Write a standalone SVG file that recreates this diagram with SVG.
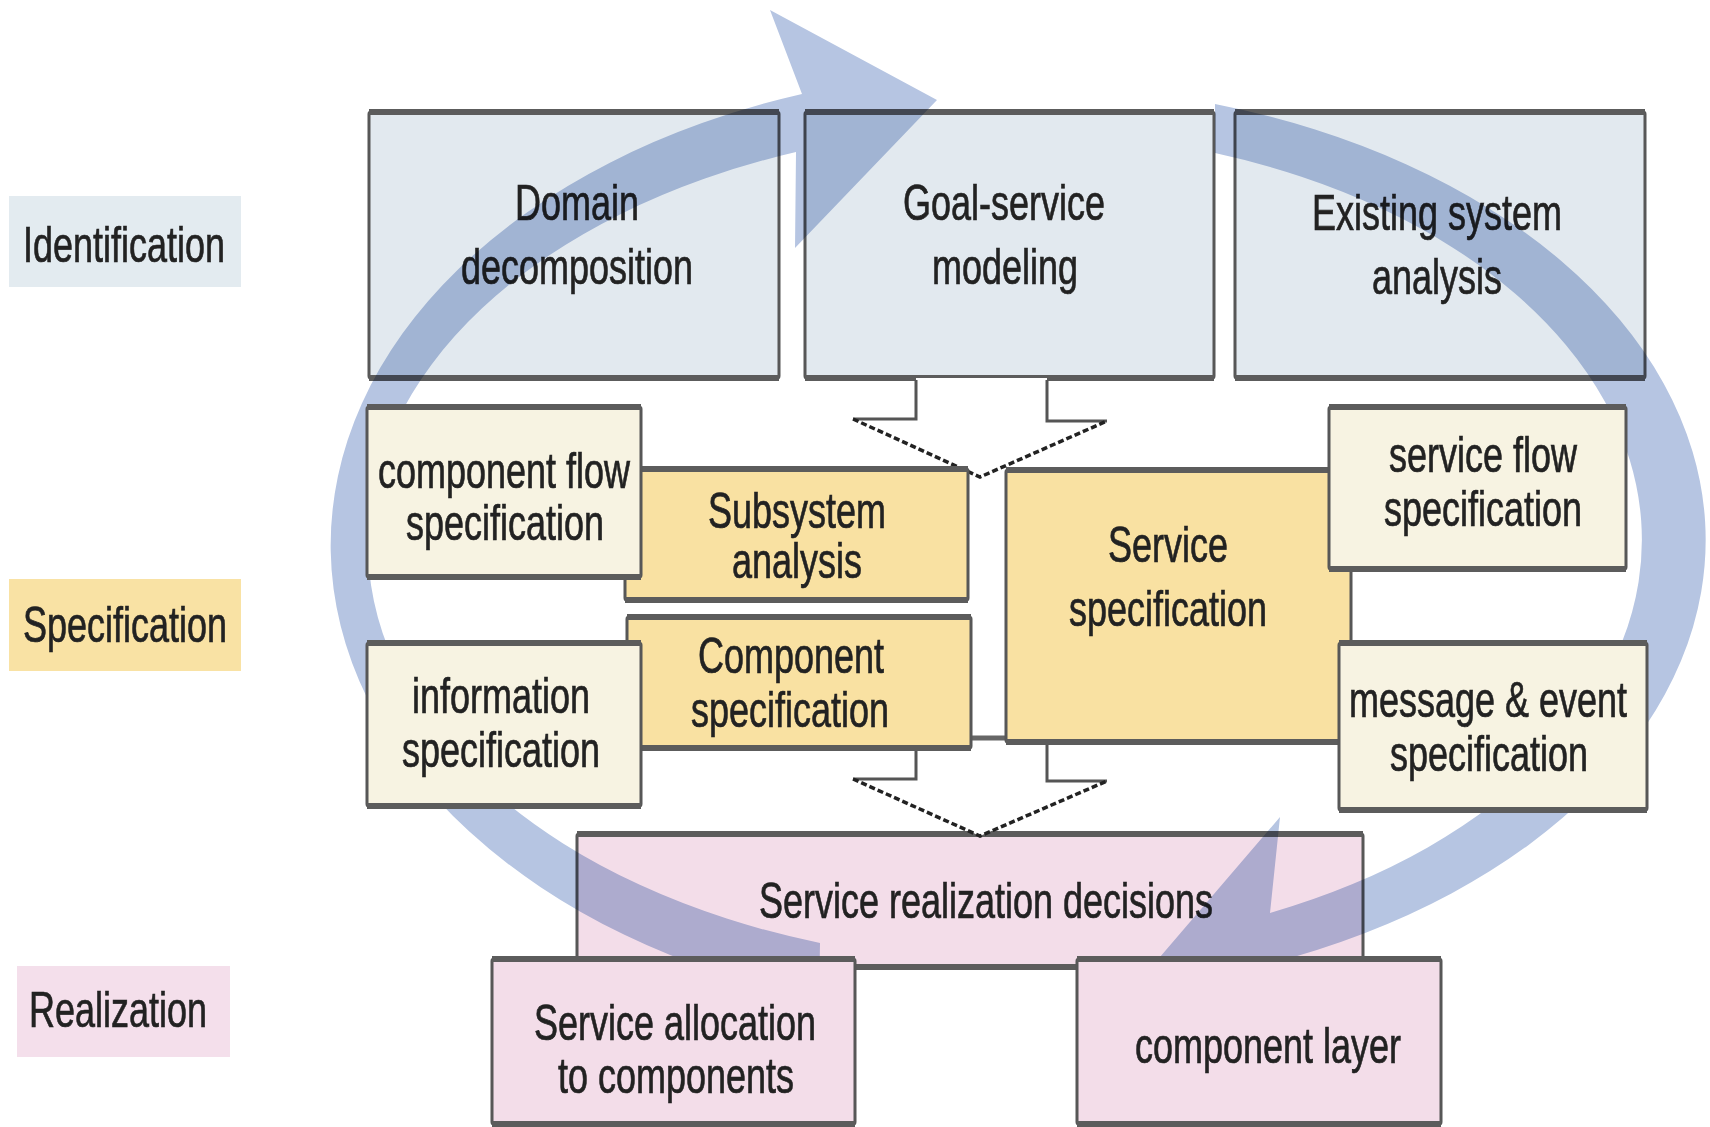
<svg xmlns="http://www.w3.org/2000/svg" width="1710" height="1127" viewBox="0 0 1710 1127">
<style>
.t{font-family:"Liberation Sans",Arial,sans-serif;font-size:50px;fill:#222;stroke:#222;stroke-width:0.7;text-anchor:middle}
.bx{stroke:#575757;stroke-width:3}
.tb{stroke:#5c5c5c;stroke-width:6}
.id{fill:#e2e9ef}
.cr{fill:#f7f3e2}
.ye{fill:#f9e1a2}
.pk{fill:#f3dde9}
.ring{fill:#b6c5e2;mix-blend-mode:multiply}
.sh{stroke:#555;stroke-width:3;fill:none}
.dg{stroke:#222;stroke-width:3.5;stroke-dasharray:6 3;fill:none}
</style>
<rect width="1710" height="1127" fill="#ffffff"/>

<g id="label-identification">
<rect x="9" y="196" width="232" height="91" fill="#e3ebf0"/>
<text class="t" transform="translate(124 262) scale(0.72 1)">Identification</text>
</g>
<g id="label-specification">
<rect x="9" y="579" width="232" height="92" fill="#f9e2a4"/>
<text class="t" transform="translate(125 642) scale(0.72 1)">Specification</text>
</g>
<g id="label-realization">
<rect x="17" y="966" width="213" height="91" fill="#f4dfeb"/>
<text class="t" transform="translate(118 1027) scale(0.72 1)">Realization</text>
</g>

<g id="domain-decomposition">
<rect class="bx id" x="369" y="112" width="410" height="266" rx="2"/>
<line class="tb" x1="369" y1="112" x2="779" y2="112"/><line class="tb" x1="369" y1="378" x2="779" y2="378"/>
<text class="t" transform="translate(577 220) scale(0.72 1)">Domain</text>
<text class="t" transform="translate(577 284) scale(0.72 1)">decomposition</text>
</g>
<g id="goal-service-modeling">
<rect class="bx id" x="805" y="112" width="409" height="266" rx="2"/>
<line class="tb" x1="805" y1="112" x2="1214" y2="112"/><line class="tb" x1="805" y1="378" x2="1214" y2="378"/>
<text class="t" transform="translate(1004 220) scale(0.72 1)">Goal-service</text>
<text class="t" transform="translate(1005 284) scale(0.72 1)">modeling</text>
</g>
<g id="existing-system-analysis">
<rect class="bx id" x="1235" y="112" width="410" height="266" rx="2"/>
<line class="tb" x1="1235" y1="112" x2="1645" y2="112"/><line class="tb" x1="1235" y1="378" x2="1645" y2="378"/>
<text class="t" transform="translate(1437 230) scale(0.72 1)">Existing system</text>
<text class="t" transform="translate(1437 294) scale(0.72 1)">analysis</text>
</g>
<g id="service-realization-decisions">
<rect class="bx pk" x="577" y="834" width="786" height="133" rx="2"/>
<line class="tb" x1="577" y1="834" x2="1363" y2="834"/><line class="tb" x1="577" y1="967" x2="1363" y2="967"/>
<text class="t" transform="translate(986 918) scale(0.72 1)">Service realization decisions</text>
</g>

<g id="connectors">
<path d="M916,378 L916,419 L853,419 L980,477 L1107,421 L1047,421 L1047,378 Z" fill="#fff"/>
<path class="sh" d="M916,380 L916,419 L853,419"/>
<path class="sh" d="M1047,380 L1047,421 L1107,421"/>
<path class="dg" d="M853,419 L980,477 L1107,421"/>
<path d="M916,738 L916,779 L853,779 L980,836 L1107,781 L1047,781 L1047,738 Z" fill="#fff"/>
<line x1="914" y1="738" x2="1049" y2="738" stroke="#666" stroke-width="5"/>
<path class="sh" d="M916,738 L916,779 L853,779"/>
<path class="sh" d="M1047,738 L1047,781 L1107,781"/>
<path class="dg" d="M853,779 L980,836 L1107,781"/>
</g>

<g id="cycle">
<path class="ring" d="M819,1000 A686,475 0 0 1 802,94 L770,10 L937,100 L795,248 L796,152 A650,418 0 0 0 820,943 Z"/>
<path class="ring" d="M1215,104 A687,455 0 0 1 1268,964 L1262,1010 L1130,992 L1280,817 L1270,913 A625,408 0 0 0 1215,153 Z"/>
</g>

<g id="subsystem-analysis">
<rect class="bx ye" x="625" y="469" width="343" height="131" rx="2"/>
<line class="tb" x1="625" y1="469" x2="968" y2="469"/><line class="tb" x1="625" y1="600" x2="968" y2="600"/>
<text class="t" transform="translate(797 528) scale(0.72 1)">Subsystem</text>
<text class="t" transform="translate(797 578) scale(0.72 1)">analysis</text>
</g>
<g id="component-specification">
<rect class="bx ye" x="627" y="617" width="344" height="131" rx="2"/>
<line class="tb" x1="627" y1="617" x2="971" y2="617"/><line class="tb" x1="627" y1="748" x2="971" y2="748"/>
<text class="t" transform="translate(791 673) scale(0.72 1)">Component</text>
<text class="t" transform="translate(790 727) scale(0.72 1)">specification</text>
</g>
<g id="service-specification">
<rect class="bx ye" x="1006" y="470" width="345" height="272" rx="2"/>
<line class="tb" x1="1006" y1="470" x2="1351" y2="470"/><line class="tb" x1="1006" y1="742" x2="1351" y2="742"/>
<text class="t" transform="translate(1168 562) scale(0.72 1)">Service</text>
<text class="t" transform="translate(1168 626) scale(0.72 1)">specification</text>
</g>

<g id="component-flow-specification">
<rect class="bx cr" x="367" y="407" width="274" height="170" rx="2"/>
<line class="tb" x1="367" y1="407" x2="641" y2="407"/><line class="tb" x1="367" y1="577" x2="641" y2="577"/>
<text class="t" transform="translate(504 488) scale(0.72 1)">component flow</text>
<text class="t" transform="translate(505 540) scale(0.72 1)">specification</text>
</g>
<g id="information-specification">
<rect class="bx cr" x="367" y="643" width="274" height="163" rx="2"/>
<line class="tb" x1="367" y1="643" x2="641" y2="643"/><line class="tb" x1="367" y1="806" x2="641" y2="806"/>
<text class="t" transform="translate(501 713) scale(0.72 1)">information</text>
<text class="t" transform="translate(501 767) scale(0.72 1)">specification</text>
</g>
<g id="service-flow-specification">
<rect class="bx cr" x="1329" y="407" width="297" height="162" rx="2"/>
<line class="tb" x1="1329" y1="407" x2="1626" y2="407"/><line class="tb" x1="1329" y1="569" x2="1626" y2="569"/>
<text class="t" transform="translate(1483 472) scale(0.72 1)">service flow</text>
<text class="t" transform="translate(1483 526) scale(0.72 1)">specification</text>
</g>
<g id="message-event-specification">
<rect class="bx cr" x="1339" y="643" width="308" height="167" rx="2"/>
<line class="tb" x1="1339" y1="643" x2="1647" y2="643"/><line class="tb" x1="1339" y1="810" x2="1647" y2="810"/>
<text class="t" transform="translate(1488 717) scale(0.72 1)">message &amp; event</text>
<text class="t" transform="translate(1489 771) scale(0.72 1)">specification</text>
</g>

<g id="service-allocation">
<rect class="bx pk" x="492" y="959" width="363" height="165" rx="2"/>
<line class="tb" x1="492" y1="959" x2="855" y2="959"/><line class="tb" x1="492" y1="1124" x2="855" y2="1124"/>
<text class="t" transform="translate(675 1040) scale(0.72 1)">Service allocation</text>
<text class="t" transform="translate(676 1093) scale(0.72 1)">to components</text>
</g>
<g id="component-layer">
<rect class="bx pk" x="1077" y="959" width="364" height="165" rx="2"/>
<line class="tb" x1="1077" y1="959" x2="1441" y2="959"/><line class="tb" x1="1077" y1="1124" x2="1441" y2="1124"/>
<text class="t" transform="translate(1268 1063) scale(0.72 1)">component layer</text>
</g>
</svg>
